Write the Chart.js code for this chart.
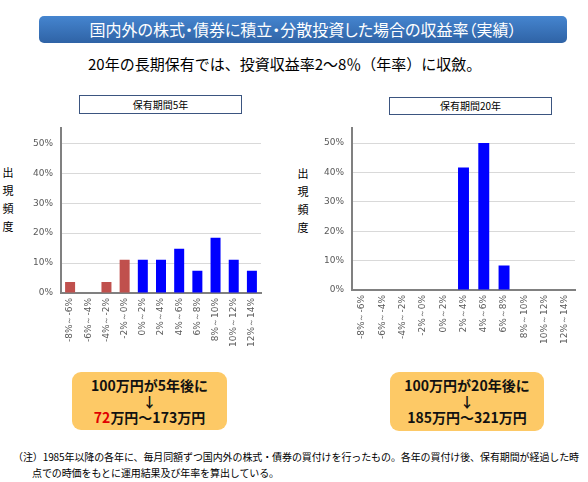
<!DOCTYPE html>
<html lang="ja">
<head>
<meta charset="utf-8">
<script src="https://cdn.jsdelivr.net/npm/chart.js@4"></script>
<style>
  body { margin: 0; background: #fff; font-family: "Noto Sans CJK JP", sans-serif; }
  #page { position: relative; width: 588px; height: 482px; overflow: hidden; }
  .abs { position: absolute; white-space: nowrap; }
  #banner {
    left: 39px; top: 16px; width: 528px; height: 27px; line-height: 27px;
    border-radius: 5px; color: #fff; font-size: 16px; text-align: center;
    background: linear-gradient(#4585cf, #2f63a6);
    font-feature-settings: "palt";
  }
  #sub { left: 88px; top: 55px; font-size: 15px; line-height: 18px; color: #000; }
  .ttl { border: 1px solid #3b5580; background: #fff; font-size: 10px; text-align: center; box-sizing: border-box; }
  .ytitle { font-size: 11px; line-height: 18px; width: 12px; text-align: center; white-space: normal; color: #000; }
  .box {
    background: #fdc966; border-radius: 9px; font-weight: 700; font-size: 14px;
    line-height: 16px; text-align: center; padding-top: 5px; box-sizing: border-box; color: #111;
  }
  .note { font-size: 10px; line-height: 14px; color: #000; letter-spacing: -0.1px; }
</style>
</head>
<body>
<div id="page">
  <div id="banner" class="abs">国内外の株式・債券に積立・分散投資した場合の収益率（実績）</div>
  <div id="sub" class="abs">20年の長期保有では、投資収益率2～8％（年率）に収斂。</div>

  <div class="abs ttl" style="left:79px;top:95px;width:163px;height:19px;line-height:17px;">保有期間5年</div>
  <div class="abs ttl" style="left:389px;top:97px;width:163px;height:18px;line-height:16px;">保有期間20年</div>

  <div class="abs ytitle" style="left:2px;top:163px;">出<br>現<br>頻<br>度</div>
  <div class="abs ytitle" style="left:297px;top:164px;">出<br>現<br>頻<br>度</div>

  <div class="abs" style="left:0;top:115px;"><canvas id="chart5" width="280" height="250"></canvas></div>
  <div class="abs" style="left:290px;top:115px;"><canvas id="chart20" width="298" height="250"></canvas></div>

  <div class="abs box" style="left:72px;top:372px;width:155px;height:58px;">100万円が5年後に<br>↓<br><span style="color:#e00000">72</span>万円～173万円</div>
  <div class="abs box" style="left:390px;top:372px;width:154px;height:59px;">100万円が20年後に<br>↓<br>185万円～321万円</div>

  <div class="abs note" style="left:13px;top:450px;">（注）1985年以降の各年に、毎月同額ずつ国内外の株式・債券の買付けを行ったもの。各年の買付け後、保有期間が経過した時</div>
  <div class="abs note" style="left:32px;top:466px;">点での時価をもとに運用結果及び年率を算出している。</div>
</div>

<script>
// return ranges (annualised), frequency in %
const ranges = ['-8%～-6%', '-6%～-4%', '-4%～-2%', '-2%～0%', '0%～2%', '2%～4%',
                '4%～6%', '6%～8%', '8%～10%', '10%～12%', '12%～14%'];
const freq5 = [3.7, 0, 3.7, 11.1, 11.1, 11.1, 14.8, 7.4, 18.5, 11.1, 7.4];
const freq20 = [0, 0, 0, 0, 0, 41.7, 50, 8.3, 0, 0, 0];
const yTicks = [0, 10, 20, 30, 40, 50];

const RED = '#c0504d';
const BLUE = '#0000ff';

Chart.defaults.font.family = 'DejaVu Sans';
Chart.defaults.font.size = 9;
Chart.defaults.color = '#595959';

function createConfig(values, opt) {
    return {
        type: 'bar',
        data: {
            labels: ranges,
            datasets: [{
                data: values,
                // negative return ranges in red
                backgroundColor: (c) => ranges[c.dataIndex].startsWith('-') ? RED : BLUE,
                barPercentage: opt.bar,
                categoryPercentage: 1
            }]
        },
        options: {
            responsive: false,
            animation: false,
            layout: { padding: { left: 0, top: opt.top, right: opt.right, bottom: 0 } },
            plugins: { legend: { display: false }, tooltip: { enabled: false } },
            scales: {
                x: {
                    grid: { display: true, drawOnChartArea: false, drawTicks: false },
                    border: { color: '#808080', width: 2 },
                    ticks: { minRotation: 90, maxRotation: 90, autoSkip: false, padding: 5 },
                    afterFit: (s) => { s.height = opt.xh; }
                },
                y: {
                    min: 0,
                    max: 55,
                    grid: { color: '#d9d9d9', drawTicks: false },
                    border: { color: '#808080', width: 2 },
                    afterBuildTicks: (s) => { s.ticks = yTicks.map(v => ({ value: v })); },
                    ticks: { padding: 8, callback: (v) => v + '%' },
                    afterFit: (s) => { s.width = opt.yw; }
                }
            }
        }
    };
}

const chart5 = new Chart(document.getElementById('chart5'),
    createConfig(freq5, { bar: 0.55, top: 6, right: 19, xh: 72, yw: 61 }));
const chart20 = new Chart(document.getElementById('chart20'),
    createConfig(freq20, { bar: 0.54, top: 7, right: 13, xh: 75, yw: 62 }));
</script>
</body>
</html>
